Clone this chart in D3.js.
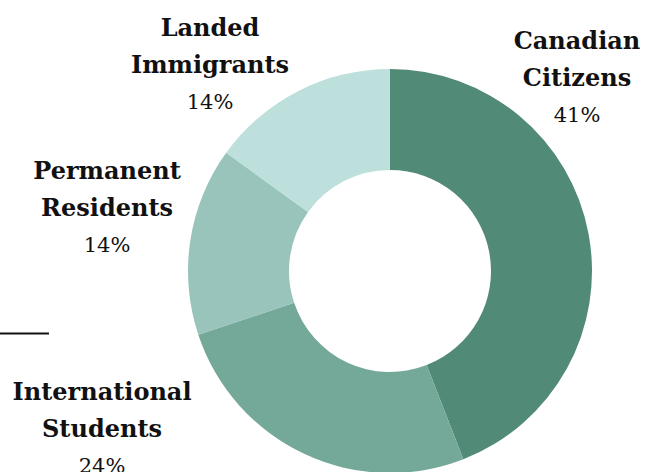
<!DOCTYPE html>
<html>
<head>
<meta charset="utf-8">
<script src="https://cdn.jsdelivr.net/npm/d3@7"></script>
<style>
  body { margin: 0; background: #fff; }
</style>
</head>
<body>
<svg width="647" height="472"></svg>
<script>
// datos del grafico
var categories = ["Canadian Citizens", "International Students", "Permanent Residents", "Landed Immigrants"];
var values = [41, 24, 14, 14];
var labelLines = [["Canadian", "Citizens"], ["International", "Students"], ["Permanent", "Residents"], ["Landed", "Immigrants"]];
var colors = ["#518a76", "#74a899", "#99c4bb", "#bde0dc"];
// posicion de las etiquetas (centro x, primera linea y)
var labelPos = [[577, 49], [102, 400], [107, 179], [210, 36]];

var svg = d3.select("svg"),
    cx = 390, cy = 271,
    outerR = 202, innerR = 101,
    g = svg.append("g").attr("transform", "translate(" + cx + "," + cy + ")");

var color = d3.scaleOrdinal().domain(categories).range(colors);

var pie = d3.pie().sort(null).value(function(d, i) { return values[i]; });
var arc = d3.arc().innerRadius(innerR).outerRadius(outerR);

g.selectAll("path")
  .data(pie(categories))
  .enter().append("path")
    .attr("d", arc)
    .attr("fill", function(d) { return color(d.data); });

// linea suelta a la izquierda
svg.append("line")
  .attr("x1", 0).attr("x2", 49)
  .attr("y1", 333.5).attr("y2", 333.5)
  .attr("stroke", "#111")
  .attr("stroke-width", 2);

// etiquetas
var labels = svg.append("g")
    .attr("font-family", "DejaVu Serif, serif")
    .attr("text-anchor", "middle")
    .attr("fill", "#111")
  .selectAll("g")
  .data(categories)
  .enter().append("g")
    .attr("transform", function(d, i) { return "translate(" + labelPos[i][0] + "," + labelPos[i][1] + ")"; });

labels.each(function(d, i) {
  var el = d3.select(this);
  labelLines[i].forEach(function(t, j) {
    el.append("text")
      .attr("y", j * 37)
      .attr("font-weight", "bold")
      .attr("font-size", 24)
      .text(t);
  });
  el.append("text")
    .attr("y", 73)
    .attr("font-size", 21)
    .text(values[i] + "%");
});
</script>
</body>
</html>
